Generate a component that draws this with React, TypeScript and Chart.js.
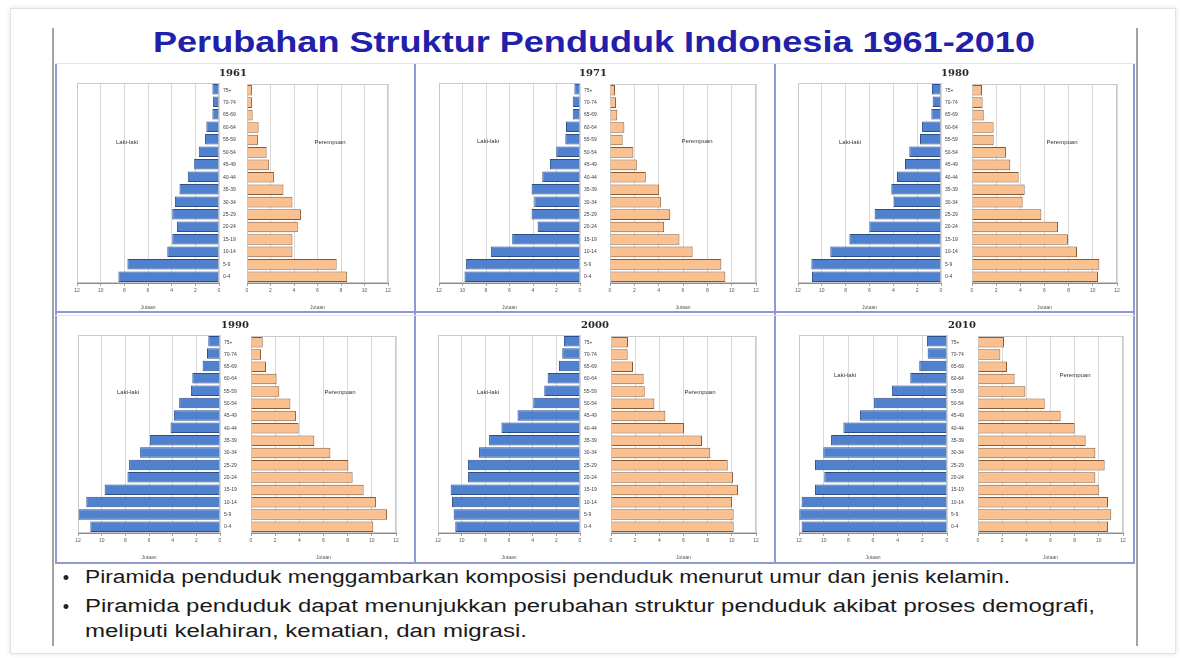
import React, { useEffect, useLayoutEffect, useRef } from "react";
import { Chart, registerables } from "chart.js";

Chart.register(...registerables);
Chart.defaults.font.family = "'Liberation Sans', Arial, sans-serif";

// ---------------- DATA ----------------
const AGE_GROUPS = ["75+", "70-74", "65-69", "60-64", "55-59", "50-54", "45-49", "40-44", "35-39", "30-34", "25-29", "20-24", "15-19", "10-14", "5-9", "0-4"];
const X_MAX = 12;
const X_STEP = 2;
const AXIS_TITLE = "Jutaan";
const MALE_LABEL = "Laki-laki";
const FEMALE_LABEL = "Perempuan";
const MAIN_TITLE = "Perubahan Struktur Penduduk Indonesia 1961-2010";
const BULLET_1 = "Piramida penduduk menggambarkan komposisi penduduk menurut umur dan jenis kelamin.";
const BULLET_2A = "Piramida penduduk dapat menunjukkan perubahan struktur penduduk akibat proses demografi,";
const BULLET_2B = "meliputi kelahiran, kematian, dan migrasi.";

const YEARS = ["1961", "1971", "1980", "1990", "2000", "2010"];

const LAKI_1961 = [0.56, 0.5, 0.56, 1.07, 1.18, 1.71, 2.1, 2.64, 3.34, 3.73, 3.95, 3.56, 3.95, 4.37, 7.74, 8.5];
const PEREMPUAN_1961 = [0.42, 0.42, 0.48, 0.99, 0.93, 1.67, 1.86, 2.29, 3.1, 3.87, 4.6, 4.32, 3.87, 3.87, 7.63, 8.53];

const LAKI_1971 = [0.48, 0.62, 0.62, 1.19, 1.25, 2.02, 2.56, 3.21, 4.12, 3.89, 4.12, 3.61, 5.77, 7.59, 9.72, 9.83];
const PEREMPUAN_1971 = [0.41, 0.49, 0.6, 1.18, 1.04, 1.92, 2.2, 2.94, 4.04, 4.18, 4.95, 4.45, 5.71, 6.79, 9.15, 9.48];

const LAKI_1980 = [0.76, 0.7, 0.81, 1.59, 1.76, 2.66, 3.02, 3.69, 4.17, 3.97, 5.57, 6.01, 7.69, 9.29, 10.88, 10.83];
const PEREMPUAN_1980 = [0.83, 0.88, 0.97, 1.79, 1.79, 2.81, 3.17, 3.86, 4.36, 4.19, 5.74, 7.12, 7.94, 8.69, 10.54, 10.43];

const LAKI_1990 = [0.99, 1.1, 1.47, 2.34, 2.46, 3.45, 3.9, 4.18, 5.93, 6.75, 7.68, 7.82, 9.75, 11.3, 11.95, 10.96];
const PEREMPUAN_1990 = [0.97, 0.83, 1.24, 2.12, 2.34, 3.26, 3.72, 3.94, 5.24, 6.57, 8.06, 8.41, 9.32, 10.34, 11.26, 10.12];

const LAKI_2000 = [1.36, 1.5, 1.78, 2.74, 3.02, 3.95, 5.28, 6.64, 7.68, 8.53, 9.46, 9.46, 10.93, 10.82, 10.68, 10.54];
const PEREMPUAN_2000 = [1.41, 1.38, 1.82, 2.7, 2.79, 3.59, 4.5, 6.04, 7.53, 8.22, 9.66, 10.1, 10.51, 10.01, 10.15, 10.15];

const LAKI_2010 = [1.63, 1.57, 2.25, 2.98, 4.47, 5.91, 7.05, 8.4, 9.4, 10.03, 10.7, 9.95, 10.7, 11.79, 11.97, 11.79];
const PEREMPUAN_2010 = [2.15, 1.85, 2.4, 3.03, 3.92, 5.52, 6.84, 8.0, 8.91, 9.71, 10.48, 9.71, 9.99, 10.76, 11.03, 10.76];

const MALE_SERIES = [LAKI_1961, LAKI_1971, LAKI_1980, LAKI_1990, LAKI_2000, LAKI_2010];
const FEMALE_SERIES = [PEREMPUAN_1961, PEREMPUAN_1971, PEREMPUAN_1980, PEREMPUAN_1990, PEREMPUAN_2000, PEREMPUAN_2010];

// ---------------- LAYOUT ----------------
const PANEL_LAYOUT = [
  { lx0: 77, lx1: 219, rx0: 247, rx1: 388, top: 83, bottom: 283, tx: 233, ty: 73, mx: 127, my: 142, fx: 330, fy: 142 },
  { lx0: 439, lx1: 580, rx0: 610, rx1: 756, top: 83, bottom: 283, tx: 593, ty: 73, mx: 488, my: 141, fx: 697, fy: 141 },
  { lx0: 798, lx1: 941, rx0: 972, rx1: 1117, top: 83, bottom: 283, tx: 955, ty: 73, mx: 850, my: 142, fx: 1062, fy: 142 },
  { lx0: 78, lx1: 220, rx0: 251, rx1: 396, top: 335, bottom: 533, tx: 235, ty: 325, mx: 128, my: 392, fx: 340, fy: 392 },
  { lx0: 438, lx1: 580, rx0: 611, rx1: 756, top: 335, bottom: 533, tx: 595, ty: 325, mx: 488, my: 392, fx: 700, fy: 392 },
  { lx0: 799, lx1: 947, rx0: 978, rx1: 1123, top: 335, bottom: 533, tx: 962, ty: 325, mx: 845, my: 375, fx: 1075, fy: 375 },
];

const BLUE_FILL = "#4f81cf";
const BLUE_EDGE = "#2c4f8a";
const ORANGE_FILL = "#fbc08f";
const ORANGE_EDGE = "#8a5a32";

const plotBox = {
  id: "plotBox",
  beforeDatasetsDraw(chart: any) {
    const { ctx, chartArea: a } = chart;
    ctx.save();
    ctx.strokeStyle = "#c9c9c9";
    ctx.lineWidth = 1;
    ctx.strokeRect(Math.round(a.left) + 0.5, Math.round(a.top) + 0.5, Math.round(a.width) - 1, Math.round(a.height) - 1);
    ctx.restore();
  },
};

type HalfProps = { side: "left" | "right"; values: number[]; x0: number; x1: number; top: number; bottom: number; labelStart: number };

function Half({ side, values, x0, x1, top, bottom, labelStart }: HalfProps) {
  const ref = useRef<HTMLCanvasElement>(null);
  const isLeft = side === "left";
  const padL = isLeft ? 6 : 0;
  const padR = 6;
  const padT = 2;
  const axisH = 30;
  const canvasLeft = isLeft ? x0 - padL : labelStart;
  const yAxisW = isLeft ? 0 : x0 - labelStart;
  const width = x1 - canvasLeft + padR;
  const height = bottom - top + padT + axisH;

  useEffect(() => {
    if (!ref.current) return;
    const chart = new Chart(ref.current, {
      type: "bar",
      data: {
        labels: AGE_GROUPS,
        datasets: [
          {
            data: values,
            backgroundColor: isLeft ? BLUE_FILL : ORANGE_FILL,
            borderColor: isLeft ? BLUE_EDGE : ORANGE_EDGE,
            borderWidth: 1,
            barPercentage: 0.85,
            categoryPercentage: 1,
          },
        ],
      },
      options: {
        indexAxis: "y",
        animation: false,
        responsive: false,
        events: [],
        layout: { padding: { left: padL, right: padR, top: padT, bottom: 0 } },
        plugins: { legend: { display: false }, tooltip: { enabled: false } },
        scales: {
          x: {
            type: "linear",
            min: 0,
            max: X_MAX,
            reverse: isLeft,
            ticks: { stepSize: X_STEP, font: { size: 5 }, color: "#595959", padding: 2, maxRotation: 0 },
            grid: { color: "#d9d9d9", tickLength: 3, tickColor: "#a6a6a6" },
            border: { color: "#8c8c8c" },
            title: { display: true, text: AXIS_TITLE, font: { size: 5 }, color: "#595959", padding: { top: 1, bottom: 2 } },
            afterFit: (s: any) => {
              s.height = axisH;
            },
          },
          y: isLeft
            ? { display: false }
            : {
                position: "left",
                ticks: { font: { size: 5 }, color: "#404040", crossAlign: "far", padding: 0, autoSkip: false },
                grid: { display: false },
                border: { display: false },
                afterFit: (s: any) => {
                  s.width = yAxisW;
                },
              },
        },
      } as any,
      plugins: [plotBox],
    });
    return () => chart.destroy();
  }, []);

  return (
    <canvas
      ref={ref}
      width={width}
      height={height}
      style={{ position: "absolute", left: canvasLeft, top: top - padT, width, height }}
    />
  );
}

type FitProps = { text: string; left: number; right: number; cy: number; size: number; weight?: number | string; color: string };

function FitText({ text, left, right, cy, size, weight = 400, color }: FitProps) {
  const ref = useRef<HTMLSpanElement>(null);
  useLayoutEffect(() => {
    const el = ref.current;
    if (!el) return;
    el.style.transform = "none";
    const w = el.getBoundingClientRect().width;
    if (w > 0) el.style.transform = `scaleX(${(right - left) / w})`;
  }, []);
  return (
    <span
      ref={ref}
      style={{
        position: "absolute",
        left,
        top: cy - size * 0.6,
        fontSize: size,
        lineHeight: `${size * 1.2}px`,
        whiteSpace: "nowrap",
        transformOrigin: "0 0",
        fontWeight: weight as any,
        color,
        fontFamily: "'Liberation Sans', Arial, sans-serif",
      }}
    >
      {text}
    </span>
  );
}

function Label({ text, x, y, size, bold, serif, color }: { text: string; x: number; y: number; size: number; bold?: boolean; serif?: boolean; color: string }) {
  return (
    <div
      style={{
        position: "absolute",
        left: x,
        top: y,
        transform: "translate(-50%, -50%)",
        fontSize: size,
        lineHeight: 1,
        whiteSpace: "nowrap",
        fontWeight: bold ? 700 : 400,
        color,
        fontFamily: serif ? "'DejaVu Serif', 'Liberation Serif', serif" : "'Liberation Sans', Arial, sans-serif",
      }}
    >
      {text}
    </div>
  );
}

const line = (left: number, top: number, width: number, height: number, background: string) => (
  <div style={{ position: "absolute", left, top, width, height, background }} />
);

export default function App() {
  const PANEL_LINE = "#9099d2";
  return (
    <div style={{ position: "fixed", left: 0, top: 0, width: 1180, height: 658, background: "#ffffff", overflow: "hidden" }}>
      {/* slide frame */}
      <div style={{ position: "absolute", left: 10, top: 8, width: 1166, height: 646, border: "1px solid #e2e2e2", boxShadow: "0 0 5px rgba(0,0,0,0.12)", boxSizing: "border-box" }} />
      {line(52, 28, 2, 618, "#a3a3a3")}
      {line(1136, 28, 2, 618, "#a3a3a3")}

      <FitText text={MAIN_TITLE} left={153} right={1035} cy={42} size={30} weight={700} color="#2020aa" />

      {/* panel grid */}
      {line(55, 63, 1080, 1, "#dfe5ef")}
      {line(55, 64, 2, 500, PANEL_LINE)}
      {line(414, 64, 2, 500, PANEL_LINE)}
      {line(774, 64, 2, 500, PANEL_LINE)}
      {line(1133, 64, 2, 500, PANEL_LINE)}
      {line(55, 311, 1080, 2, PANEL_LINE)}
      {line(55, 315, 1080, 1, "#dfe5ef")}
      {line(55, 562, 1080, 2, PANEL_LINE)}

      {PANEL_LAYOUT.map((p, i) => (
        <React.Fragment key={YEARS[i]}>
          <Half side="left" values={MALE_SERIES[i]} x0={p.lx0} x1={p.lx1} top={p.top} bottom={p.bottom} labelStart={0} />
          <Half side="right" values={FEMALE_SERIES[i]} x0={p.rx0} x1={p.rx1} top={p.top} bottom={p.bottom} labelStart={p.lx1 + 4} />
          <Label text={YEARS[i]} x={p.tx} y={p.ty} size={10} bold serif color="#262626" />
          <Label text={MALE_LABEL} x={p.mx} y={p.my} size={6} color="#333333" />
          <Label text={FEMALE_LABEL} x={p.fx} y={p.fy} size={6} color="#333333" />
        </React.Fragment>
      ))}

      {/* bullets */}
      <Label text="•" x={66} y={578} size={18} color="#222222" />
      <Label text="•" x={66} y={607} size={18} color="#222222" />
      <FitText text={BULLET_1} left={85} right={1010} cy={578} size={18} color="#1a1a1a" />
      <FitText text={BULLET_2A} left={85} right={1095} cy={607} size={18} color="#1a1a1a" />
      <FitText text={BULLET_2B} left={85} right={527} cy={632} size={18} color="#1a1a1a" />
    </div>
  );
}
